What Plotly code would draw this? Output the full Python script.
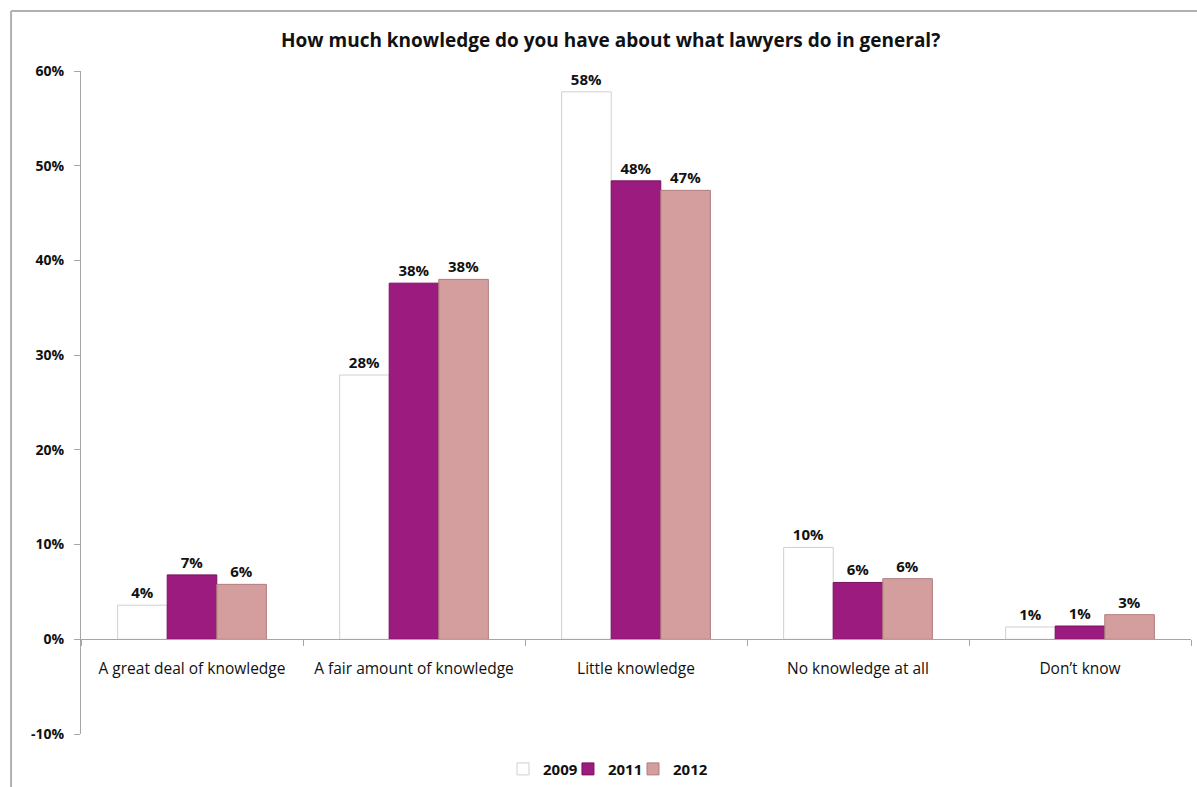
import plotly.graph_objects as go

categories = ["A great deal of knowledge", "A fair amount of knowledge", "Little knowledge",
              "No knowledge at all", "Don\u2019t know"]
years = ["2009", "2011", "2012"]
values_2009 = [0.036, 0.279, 0.578, 0.097, 0.013]
values_2011 = [0.068, 0.376, 0.484, 0.060, 0.014]
values_2012 = [0.058, 0.380, 0.474, 0.064, 0.026]
y_ticks = [-0.1, 0, 0.1, 0.2, 0.3, 0.4, 0.5, 0.6]
y_tick_labels = ["-10%", "0%", "10%", "20%", "30%", "40%", "50%", "60%"]

colors = {"2009": "#ffffff", "2011": "#9c1b7e", "2012": "#d59e9e"}
outlines = {"2009": "#d0d0d0", "2011": "#7a1062", "2012": "#b07d7d"}
FONT = "Open Sans"

# one legend per series so the items can sit as tightly as in the original
legend_ids = ["legend", "legend2", "legend3"]
legend_x = [0.3802, 0.4387, 0.4973]

fig = go.Figure()
for year, vals, lg in zip(years, [values_2009, values_2011, values_2012], legend_ids):
    fig.add_trace(go.Bar(
        name=year, x=categories, y=vals, legend=lg,
        marker=dict(color=colors[year], line=dict(color=outlines[year], width=1)),
        texttemplate="%{y:.0%}", textposition="outside", cliponaxis=False,
        textfont=dict(family=FONT, size=15, color="#111111", weight="bold"),
    ))

legend_style = dict(orientation="h", xanchor="left", y=-0.053, yanchor="middle",
                    font=dict(family=FONT, size=15, weight="bold"), bgcolor="rgba(0,0,0,0)")

fig.update_layout(
    width=1197, height=787,
    margin=dict(l=81, r=6, t=71, b=53, autoexpand=False),
    paper_bgcolor="white", plot_bgcolor="white",
    barmode="group", bargap=0.33, bargroupgap=0,
    font=dict(family=FONT, color="#111111"),
    showlegend=True,
    legend=dict(x=legend_x[0], **legend_style),
    legend2=dict(x=legend_x[1], **legend_style),
    legend3=dict(x=legend_x[2], **legend_style),
    xaxis=dict(anchor="free", position=1/7, showline=True, linecolor="#a6a6a6", linewidth=1,
               ticks="outside", tickson="boundaries", ticklen=6, tickcolor="#a6a6a6",
               ticklabelstandoff=15, automargin=False,
               tickfont=dict(family=FONT, size=15.5, color="#111111"), showgrid=False),
    yaxis=dict(range=[-0.1, 0.6], tickvals=y_ticks, ticktext=y_tick_labels, showline=True,
               linecolor="#a6a6a6", linewidth=1, ticks="outside", ticklen=6,
               tickcolor="#a6a6a6", showgrid=False, zeroline=False, automargin=False,
               ticklabelstandoff=7,
               tickfont=dict(family=FONT, size=14, color="#111111", weight="bold")),
)

fig.add_annotation(
    text="How much knowledge do you have about what lawyers do in general?",
    xref="paper", yref="paper", x=0.4766, y=1.047, xanchor="center", yanchor="middle",
    showarrow=False, font=dict(family=FONT, size=19, color="#111111", weight="bold"),
)

# outer chart border (only left and top edges are visible in the original)
fig.add_shape(type="line", xref="paper", yref="paper", x0=-0.063, x1=-0.063, y0=-0.09, y1=1.0905,
              line=dict(color="#b0b0b0", width=2))
fig.add_shape(type="line", xref="paper", yref="paper", x0=-0.063, x1=1.01, y0=1.0905, y1=1.0905,
              line=dict(color="#b0b0b0", width=2))

fig.write_html("out.html", config={"displayModeBar": False},
               post_script="document.body.style.margin='0';")
